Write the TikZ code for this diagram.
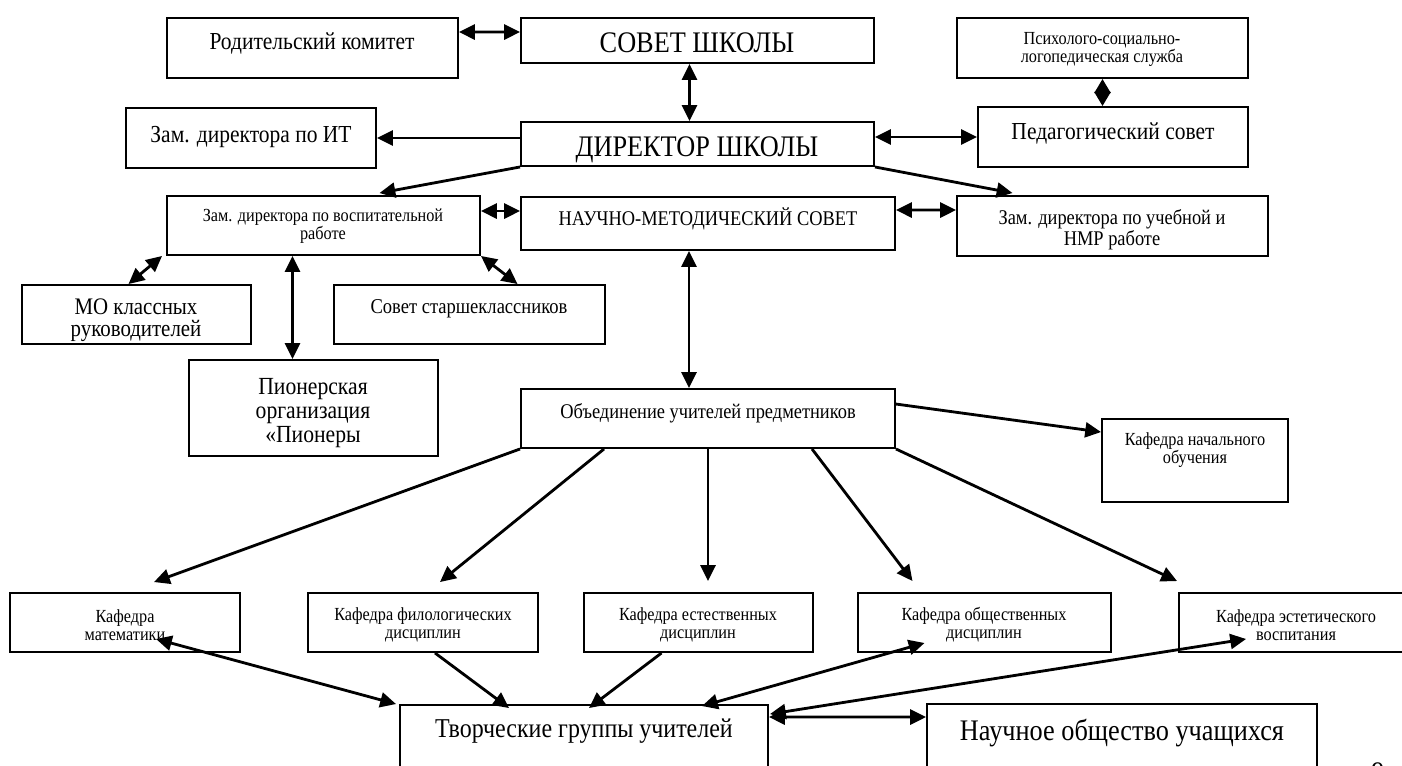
\documentclass[tikz,border=0pt]{standalone}
\usepackage{fontspec}
\setmainfont{Liberation Serif}[FakeStretch=0.88]
\usetikzlibrary{arrows.meta,fit,calc}

\newcommand\fBig{\fontsize{17}{15}\selectfont}
\newcommand\fTvor{\fontsize{15.5}{15}\selectfont}
\newcommand\fPion{\fontsize{14}{13.6}\selectfont}
\newcommand\fMid{\fontsize{13.9}{12.5}\selectfont}
\newcommand\fMo{\fontsize{13.5}{12.5}\selectfont}
\newcommand\fSst{\fontsize{12}{12.5}\selectfont}
\newcommand\fNms{\fontsize{11.9}{12}\selectfont}
\newcommand\fSml{\fontsize{10.5}{10.2}\selectfont}

\tikzset{
  box/.style={draw, line width=1.1pt, inner sep=0pt, rectangle},
  lbl/.style={inner sep=0pt, align=center},
  arr/.style={line width=1.6pt, -{Triangle[length=9pt,width=8.5pt]}},
  darr/.style={line width=1.6pt, {Triangle[length=9pt,width=8.5pt]}-{Triangle[length=9pt,width=8.5pt]}},
  dmd/.style={line width=1.6pt, {Triangle[length=8pt,width=9pt]}-{Triangle[length=8pt,width=9pt]}},
}

\begin{document}
\begin{tikzpicture}[x=0.02cm, y=-0.02cm]
\useasboundingbox (0,0) rectangle (1402,765);
\clip (0,0) rectangle (1402,765);

% top row
\node[box, fit={(167,18) (458,78)}] (rod) {};
\node[lbl, font=\fMid] (rodT) at (312,43) {Родительский комитет};
\node[box, fit={(521,18) (874,63)}] (sovet) {};
\node[lbl, font=\fBig] (sovetT) at (697,43) {СОВЕТ ШКОЛЫ};
\node[box, fit={(957,18) (1248,78)}] (psych) {};
\node[lbl, font=\fSml] (psychT) at (1102,49) {Психолого-социально-\\логопедическая служба};

% director row
\node[box, fit={(126,108) (376,168)}] (zamit) {};
\node[lbl, font=\fMid] (zamitT) at (251,137) {Зам. директора по ИТ};
\node[box, fit={(521,122) (874,166)}] (dir) {};
\node[lbl, font=\fBig] (dirT) at (697,150) {ДИРЕКТОР ШКОЛЫ};
\node[box, fit={(978,107) (1248,167)}] (ped) {};
\node[lbl, font=\fMid] (pedT) at (1113,133) {Педагогический совет};

% deputies and council
\node[box, fit={(167,196) (480,255)}] (vosp) {};
\node[lbl, font=\fSml] (vospT) at (323,226) {Зам. директора по воспитательной\\работе};
\node[box, fit={(521,197) (895,250)}] (nms) {};
\node[lbl, font=\fNms] (nmsT) at (708,219) {НАУЧНО-МЕТОДИЧЕСКИЙ СОВЕТ};
\node[box, fit={(957,196) (1268,256)}] (ucheb) {};
\node[lbl, font=\fNms] (uchebT) at (1112,230) {Зам. директора по учебной и\\НМР работе};

% educational work
\node[box, fit={(22,285) (251,344)}] (mo) {};
\node[lbl, font=\fMo] (moT) at (136,320) {МО классных\\руководителей};
\node[box, fit={(334,285) (605,344)}] (sst) {};
\node[lbl, font=\fSst] (sstT) at (469,309) {Совет старшеклассников};
\node[box, fit={(189,360) (438,456)}] (pion) {};
\node[lbl, font=\fPion] (pionT) at (313,413) {Пионерская\\организация\\«Пионеры};

% teachers union
\node[box, fit={(521,389) (895,448)}] (obed) {};
\node[lbl, font=\fNms] (obedT) at (708,413) {Объединение учителей предметников};
\node[box, fit={(1102,419) (1288,502)}] (kNach) {};
\node[lbl, font=\fSml] (kNachT) at (1195,450) {Кафедра начального\\обучения};

% departments
\node[box, fit={(10,593) (240,652)}] (kMat) {};
\node[lbl, font=\fSml] (kMatT) at (125,625) {Кафедра\\математики};
\node[box, fit={(308,593) (538,652)}] (kFil) {};
\node[lbl, font=\fSml] (kFilT) at (423,625) {Кафедра филологических\\дисциплин};
\node[box, fit={(584,593) (813,652)}] (kEst) {};
\node[lbl, font=\fSml] (kEstT) at (698,625) {Кафедра естественных\\дисциплин};
\node[box, fit={(858,593) (1111,652)}] (kObsh) {};
\node[lbl, font=\fSml] (kObshT) at (984,625) {Кафедра общественных\\дисциплин};
\node[box, fit={(1179,593) (1413,652)}] (kEstet) {};
\node[lbl, font=\fSml] (kEstetT) at (1296,625) {Кафедра эстетического\\воспитания};

% bottom row
\node[box, fit={(400,705) (768,800)}] (tvor) {};
\node[lbl, font=\fTvor] (tvorT) at (584,731) {Творческие группы учителей};
\node[box, fit={(927,704) (1317,800)}] (nauch) {};
\node[lbl, font=\fBig] (nauchT) at (1122,733) {Научное общество учащихся};
\node[lbl, font=\fBig] (pageT) at (1378,773) {9};

% links
\draw[darr] ($(rod.north east)+(0,15)$) -- ($(sovet.north west)+(0,15)$);
\draw[darr] ($(sovet.south)+(-8,0)$) -- ($(dir.north)+(-8,0)$);
\draw[arr] (dir.west |- zamit.east) -- (zamit.east);
\draw[darr] (dir.east |- ped.west) -- (ped.west);
\draw[dmd] (psych.south) -- (psych.south |- ped.north);
\draw[arr] (dir.south west) -- ($(vosp.north)+(56,-2)$);
\draw[arr] (dir.south east) -- ($(ucheb.north)+(-100,-2)$);
\draw[darr] ($(vosp.north east)+(0,16)$) -- ($(nms.north west)+(0,15)$);
\draw[darr] ($(nms.north east)+(0,14)$) -- ($(ucheb.north west)+(0,15)$);
\draw[darr] ($(vosp.south west)+(-4,0)$) -- ($(mo.north)+(-8,0)$);
\draw[darr] ($(vosp.south)+(-31,0)$) -- ($(pion.north)+(-21,0)$);
\draw[darr] (vosp.south east) -- ($(sst.north)+(48,0)$);
\draw[darr] ($(nms.south)+(-19,0)$) -- ($(obed.north)+(-19,0)$);
\draw[arr] ($(obed.north east)+(0,16)$) -- ($(kNach.north west)+(0,14)$);
\draw[arr] (obed.south west) -- ($(kMat.north)+(29,-10)$);
\draw[arr] ($(obed.south west)+(84,0)$) -- ($(kFil.north)+(17,-10)$);
\draw[arr] (obed.south) -- ($(obed.south |- kEst.north)+(0,-11)$);
\draw[arr] ($(obed.south)+(104,0)$) -- ($(kObsh.north)+(-72,-11)$);
\draw[arr] (obed.south east) -- ($(kEstet.north west)+(-1,-11)$);
\draw[darr] ($(kMat.south)+(31,-14)$) -- ($(tvor.north west)+(-3,0)$);
\draw[arr] ($(kFil.south)+(12,0)$) -- ($(tvor.north)+(-75,4)$);
\draw[arr] ($(kEst.south)+(-37,0)$) -- ($(tvor.north)+(5,4)$);
\draw[darr] ($(tvor.north)+(118,2)$) -- ($(kObsh.south)+(-60,-10)$);
\draw[darr] ($(tvor.north east)+(1,10)$) -- ($(kEstet.south west)+(68,-14)$);
\draw[darr] ($(tvor.north east)+(0,13)$) -- ($(nauch.north west)+(0,14)$);
\end{tikzpicture}
\end{document}
